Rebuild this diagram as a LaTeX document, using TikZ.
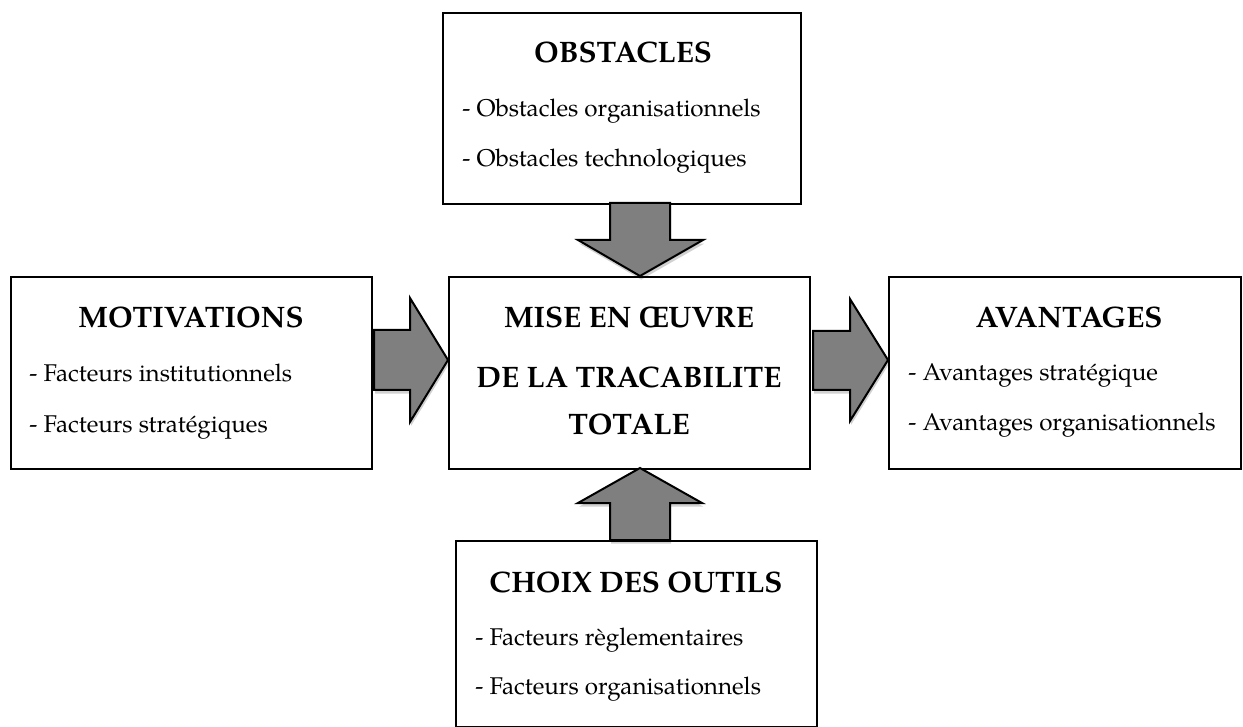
\documentclass[tikz,border=0pt]{standalone}
\usepackage{fontspec}
\setmainfont{texgyrepagella}[Extension=.otf, UprightFont=*-regular, BoldFont=*-bold, ItalicFont=*-italic, BoldItalicFont=*-bolditalic]
\usetikzlibrary{shadows}
\definecolor{arrowgray}{RGB}{127,127,127}
\tikzset{
  box/.style={draw=black, line width=1pt, fill=white, inner sep=0pt, anchor=north west},
  ttl/.style={anchor=base, font=\fontsize{14.8}{16}\selectfont\bfseries, inner sep=0pt},
  itm/.style={anchor=base west, font=\fontsize{12.1}{14}\selectfont, inner sep=0pt},
  blk/.style={draw=black, line width=1pt, fill=arrowgray, line join=miter,
    drop shadow={shadow xshift=0.6pt, shadow yshift=-1.8pt, opacity=0.18, fill=black}},
}
\begin{document}
\begin{tikzpicture}[x=0.5pt,y=-0.5pt]
\fill[white] (0,0) rectangle (1243,727);
\useasboundingbox (0,0) rectangle (1243,727);

% boxes
\node[box, minimum width=179pt, minimum height=95.5pt] (obst) at (442,12) {};
\node[box, minimum width=180.5pt, minimum height=96pt] (mise) at (448,276) {};
\node[box, minimum width=180.5pt, minimum height=96pt] (motiv) at (10,276) {};
\node[box, minimum width=176pt, minimum height=96pt] (avant) at (888,276) {};
\node[box, minimum width=180.5pt, minimum height=93pt] (choix) at (455,540) {};

% texts
\node[ttl] (obstT) at (623,63) {OBSTACLES};
\node[itm] (obst1) at (462,117) {- Obstacles organisationnels};
\node[itm] (obst2) at (462,167) {- Obstacles technologiques};

\node[ttl] (motivT) at (191,328) {MOTIVATIONS};
\node[itm] (motiv1) at (29,381) {- Facteurs institutionnels};
\node[itm] (motiv2) at (29,432) {- Facteurs stratégiques};

\node[ttl] (miseT1) at (629,328) {MISE EN ŒUVRE};
\node[ttl] (miseT2) at (629,387) {DE LA TRACABILITE};
\node[ttl] (miseT3) at (629,434) {TOTALE};

\node[ttl] (avantT) at (1069,328) {AVANTAGES};
\node[itm] (avant1) at (908,380) {- Avantages stratégique};
\node[itm] (avant2) at (908,430) {- Avantages organisationnels};

\node[ttl] (choixT) at (636,592) {CHOIX DES OUTILS};
\node[itm] (choix1) at (475,645) {- Facteurs règlementaires};
\node[itm] (choix2) at (475,694) {- Facteurs organisationnels};

% block arrows
\draw[blk] (610,203) -- (670,203) -- (670,240) -- (703,240) -- (640,276) -- (578,240) -- (610,240) -- cycle;
\draw[blk] (610,540) -- (670,540) -- (670,503) -- (702,503) -- (640,468) -- (578,503) -- (610,503) -- cycle;
\draw[blk] (374,330) -- (410,330) -- (410,298) -- (448,360) -- (410,422) -- (410,390) -- (374,390) -- cycle;
\draw[blk] (813,331) -- (850,331) -- (850,299) -- (888,360) -- (850,421) -- (850,390) -- (813,390) -- cycle;
\end{tikzpicture}
\end{document}
